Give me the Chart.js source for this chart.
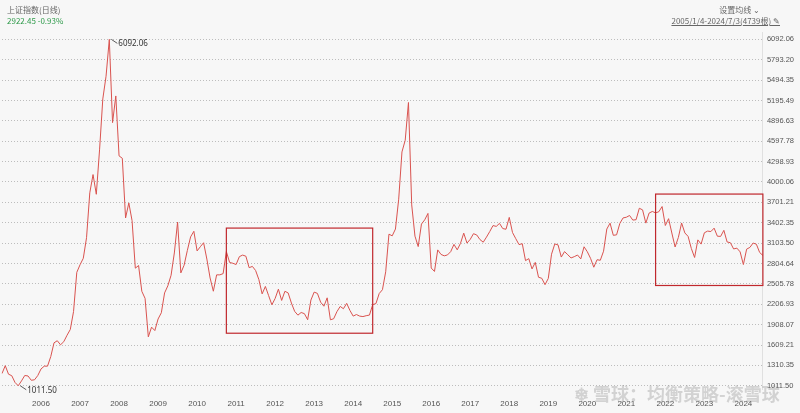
<!DOCTYPE html>
<html><head><meta charset="utf-8">
<script src="https://cdn.jsdelivr.net/npm/chart.js@4"></script>
<style>
html,body{margin:0;padding:0;background:#f7f7f7;font-family:"Noto Sans CJK SC","Noto Sans",sans-serif;}
#wrap{position:relative;width:800px;height:413px;overflow:hidden;}
.t{position:absolute;font-size:8px;color:#666;}
</style></head><body>
<div id="wrap">
<canvas id="c" width="800" height="413"></canvas>
<div class="t" style="left:7px;top:4px;">上证指数(日线)</div>
<div class="t" style="left:7px;top:15px;color:#2e9a4a;">2922.45 -0.93%</div>
<div class="t" style="right:40px;top:4px;">设置均线 ⌄</div>
<div class="t" style="right:20px;top:15px;text-decoration:underline;">2005/1/4-2024/7/3(4739根) ✎</div>
<div style="position:absolute;left:574px;top:380px;font-size:18px;color:rgba(150,150,150,0.38);font-weight:bold;white-space:nowrap;">❄ 雪球：均衡策略-滚雪球</div>
</div>
<script>
const years=[2005,2006,2007,2008,2009,2010,2011,2012,2013,2014,2015,2016,2017,2018,2019,2020,2021,2022,2023,2024];
const values=[
1191,1306,1181,1159,1060,1011.5,1083,1162,1155,1092,1099,1161,
1258,1299,1299,1440,1641,1672,1612,1658,1752,1837,2099,2675,
2786,2881,3183,3841,4109,3820,4471,5218,5552,6092.06,4871,5262,
4383,4348,3472,3693,3433,2736,2775,2397,2293,1729,1871,1821,
1991,2082,2373,2477,2633,2959,3412,2667,2779,2996,3195,3277,
2989,3051,3109,2870,2592,2398,2638,2638,2656,2979,2820,2808,
2790,2905,2928,2912,2743,2762,2701,2568,2359,2468,2333,2199,
2292,2428,2263,2397,2373,2225,2103,2047,2086,2069,1980,2269,
2385,2366,2237,2178,2301,1979,1994,2098,2175,2141,2220,2116,
2033,2056,2033,2026,2039,2048,2201,2217,2364,2420,2683,3235,
3210,3310,3748,4441,4612,5166,3664,3206,3053,3383,3445,3539,
2738,2688,3004,2938,2917,2930,2979,3085,3005,3100,3250,3104,
3159,3242,3223,3155,3117,3192,3273,3361,3349,3393,3317,3307,
3481,3259,3169,3082,3095,2847,2876,2725,2821,2603,2588,2494,
2585,2941,3091,3078,2899,2979,2933,2886,2905,2929,2872,3050,
2977,2880,2750,2860,2852,2985,3310,3396,3218,3225,3392,3473,
3483,3509,3441,3447,3615,3591,3397,3544,3568,3547,3564,3640,
3362,3462,3252,3047,3186,3399,3253,3202,3024,2893,3151,3089,
3255,3280,3273,3323,3205,3202,3291,3120,3110,3018,3030,2975,
2789,3015,3041,3105,3087,2967,2922];
const labels=[];
years.forEach(y=>{for(let m=1;m<=12;m++){if(labels.length<values.length)labels.push(y+'-'+String(m).padStart(2,'0'));}});
const yTicks=[6092.06,5793.20,5494.35,5195.49,4896.63,4597.78,4298.93,4000.06,3701.21,3402.35,3103.50,2804.64,2505.78,2206.93,1908.07,1609.21,1310.35,1011.50];
const boxes=[['2010-10','2014-07',1782,3324],['2021-10','2024-07',2482,3823]];
const marks=[['2007-10',6092.06,'6092.06'],['2005-06',1011.5,'1011.50']];
const overlay={id:'ov',afterDatasetsDraw(ch){
 const c=ch.ctx,x=ch.scales.x,y=ch.scales.y;
 c.save();c.strokeStyle='#c0282d';c.lineWidth=1.2;
 boxes.forEach(b=>{const x1=x.getPixelForValue(labels.indexOf(b[0])),x2=x.getPixelForValue(labels.indexOf(b[1]));
  const y1=y.getPixelForValue(b[3]),y2=y.getPixelForValue(b[2]);c.strokeRect(x1,y1,x2-x1,y2-y1);});
 c.font='8px "Noto Sans",sans-serif';c.fillStyle='#333';c.strokeStyle='#333';c.lineWidth=0.8;
 marks.forEach(m=>{const px=x.getPixelForValue(labels.indexOf(m[0])),py=y.getPixelForValue(m[1]);
  c.beginPath();c.moveTo(px+2,py);c.lineTo(px+8,py+4);c.stroke();c.fillText(m[2],px+9,py+7);});
 c.restore();}};
new Chart(document.getElementById('c'),{type:'line',
data:{labels,datasets:[{data:values,borderColor:'#d9534f',borderWidth:1,pointRadius:0,tension:0}]},
options:{responsive:false,animation:false,
 layout:{padding:{top:32,left:0,right:2,bottom:2}},
 plugins:{legend:{display:false},tooltip:{enabled:false}},
 scales:{
  x:{offset:false,grid:{display:false},border:{display:false},
   ticks:{autoSkip:false,maxRotation:0,font:{size:8},color:'#555',padding:2,
    callback:(v,i)=>{const l=labels[i];return (l.endsWith('-01')&&l!=='2005-01')?l.slice(0,4):'';}}},
  y:{position:'right',min:958,max:6200,
   afterBuildTicks:a=>{a.ticks=yTicks.map(v=>({value:v}));},
   grid:{color:'#bdbdbd',drawTicks:false},
   border:{display:true,color:'#e0e0e0',dash:[1,2]},
   ticks:{font:{size:7.5},color:'#555',padding:4,callback:v=>v.toFixed(2)}}}},
plugins:[overlay]});
</script></body></html>
